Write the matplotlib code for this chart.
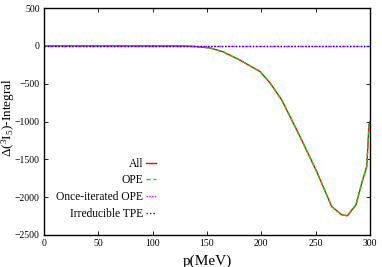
import numpy as np
import matplotlib.pyplot as plt

plt.rcParams['font.family'] = 'Liberation Serif'
plt.rcParams['mathtext.fontset'] = 'custom'
plt.rcParams['mathtext.rm'] = 'Liberation Serif'
plt.rcParams['mathtext.it'] = 'Liberation Serif:italic'

# data
p = [0, 50, 100, 120, 130, 140, 152.8, 165, 180, 198.8, 208, 218.7, 235.6,
     250.9, 264.7, 273.9, 279.1, 287.1, 292.4, 297, 299.1, 300]
all_vals = [0, 0, 0, -1, -3, -10, -28, -80, -186, -340, -490, -714, -1199,
            -1660, -2123, -2232, -2246, -2100, -1814, -1595, -1044, -1000]
ope_vals = all_vals
once_iter = [0] * len(p)
irred_tpe = [0] * len(p)

fig = plt.figure(figsize=(3.82, 2.67), dpi=100)
ax = fig.add_axes([44 / 382, 32 / 267, 326 / 382, 227 / 267])

ax.plot(p, all_vals, color='red', lw=1, label='All')
ax.plot(p, ope_vals, color='#00dd00', lw=1, ls=(0, (3, 2)), label='OPE')
ax.plot(p, once_iter, color='magenta', lw=1, ls=(0, (1, 1)),
        label='Once-iterated OPE')
ax.plot(p, irred_tpe, color='blue', lw=1, ls=(0, (1, 1.5)),
        label='Irreducible TPE')

ax.set_xlim(0, 300)
ax.set_ylim(-2500, 500)
ax.set_xticks(np.arange(0, 301, 50))
ax.set_yticks(np.arange(-2500, 501, 500))
ax.tick_params(direction='in', top=True, right=True, labelsize=7,
               length=3, width=0.6, pad=3)
for s in ax.spines.values():
    s.set_linewidth(1)

ax.set_xlabel('p(MeV)', fontsize=11)
ax.xaxis.set_label_coords(0.5, -0.085)
ax.set_ylabel(r'$\Delta(^3\mathrm{I}_5)$-Integral', fontsize=9.5)
ax.yaxis.set_label_coords(-0.084, 0.52)

leg = ax.legend(loc='lower left', bbox_to_anchor=(0.012, 0.03), frameon=False,
                fontsize=8.3, markerfirst=False, handlelength=0.9,
                handletextpad=0.25, labelspacing=0.42, borderpad=0.2)
for t in leg.get_texts():
    t.set_ha('right')
leg._legend_box.align = 'right'

fig.savefig('out.png', dpi=100)
